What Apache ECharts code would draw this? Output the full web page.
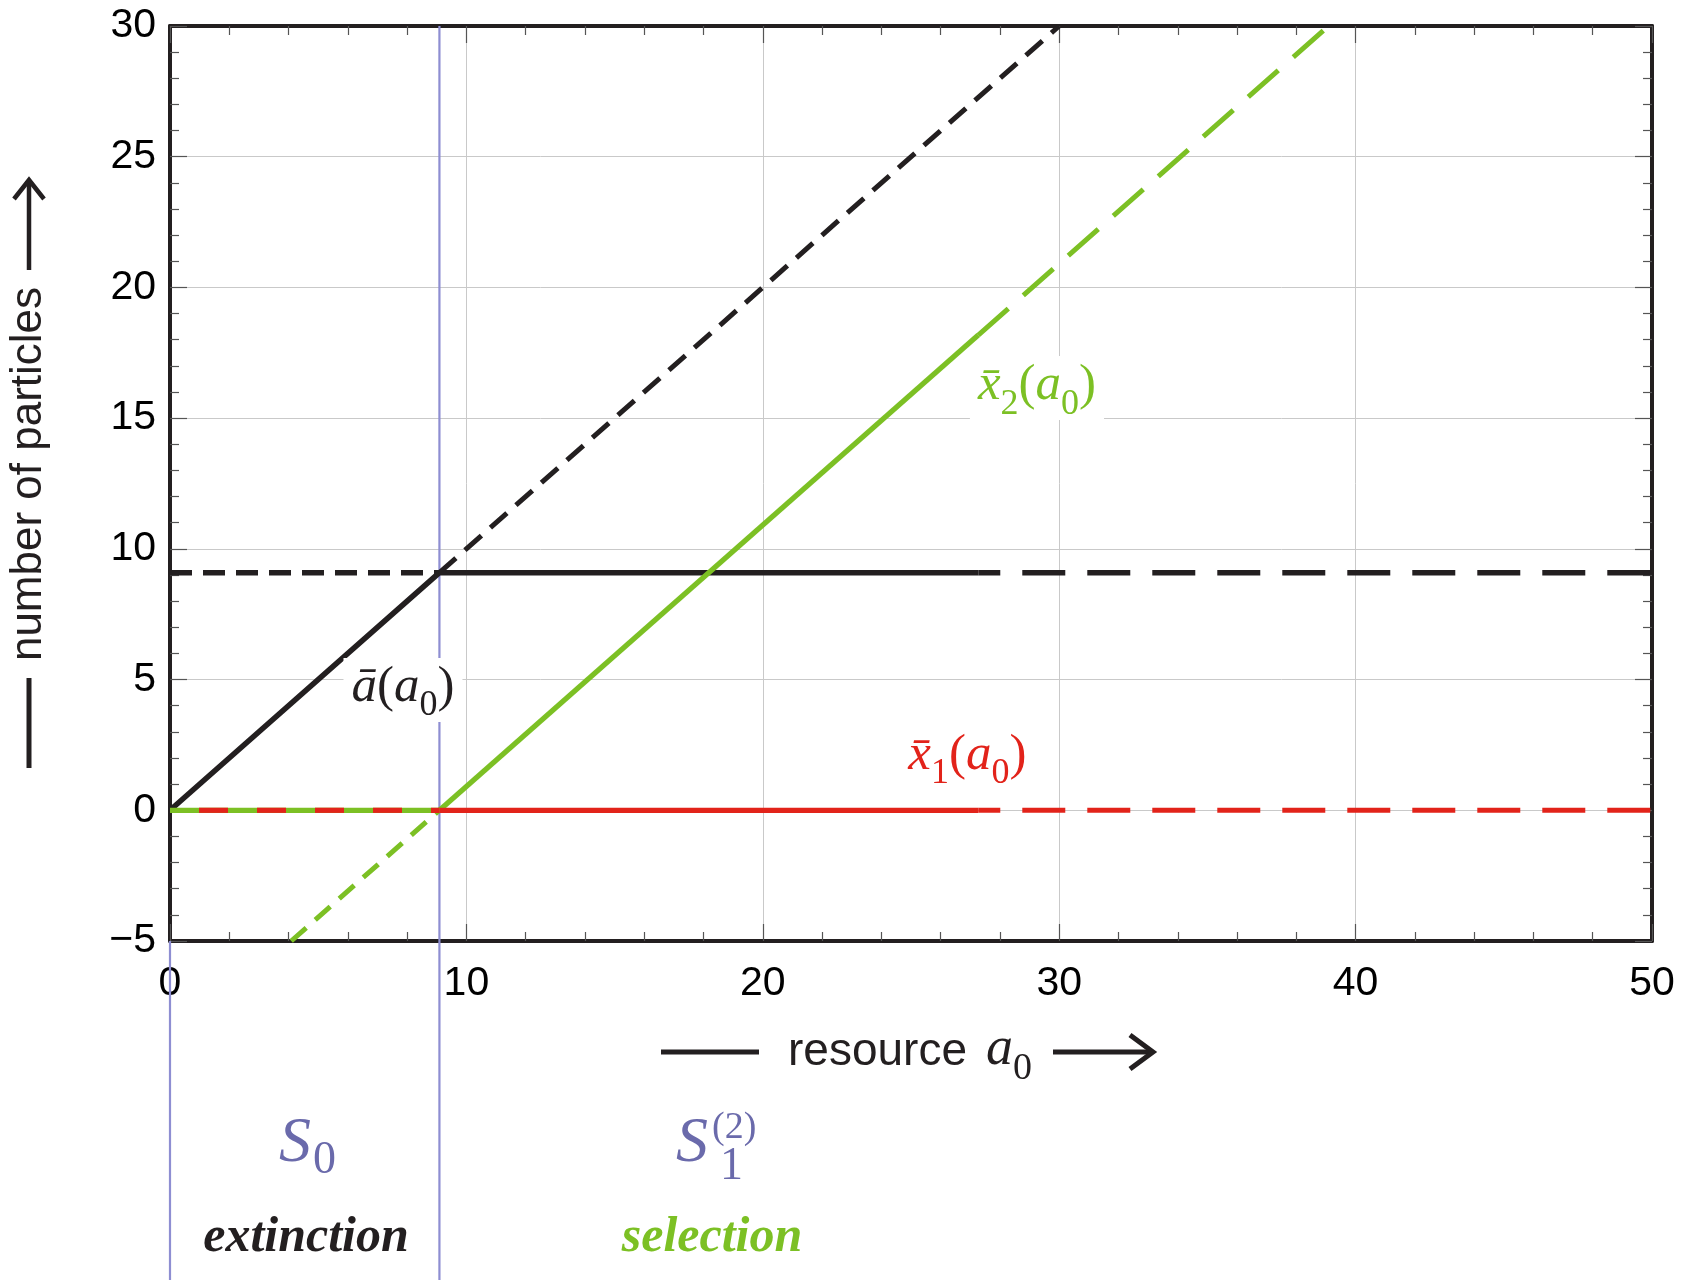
<!DOCTYPE html>
<html>
<head>
<meta charset="utf-8">
<script src="https://cdn.jsdelivr.net/npm/echarts@6/dist/echarts.min.js"></script>
<style>
html,body{margin:0;padding:0;background:#fff;}
#c{width:1685px;height:1280px;}
</style>
</head>
<body>
<div id="c"></div>
<script>
// ---------- data ----------
const xTicks = [0, 10, 20, 30, 40, 50];
const yTicks = [-5, 0, 5, 10, 15, 20, 25, 30];
const regionBounds = [[0, -5], [9.09, 30]];           // purple boundaries: [x, top y]
const aBarSolid = [[0, 0], [9.09, 9.09], [27.27, 9.09]];
const aBarLevelDash = [[0, 9.09], [9.09, 9.09]];
const aBarDiagDash = [[9.09, 9.09], [30, 30]];
const aBarTailDash = [[27.27, 9.09], [50, 9.09]];
const x2Zero = [[0, 0], [9.09, 0]];
const x2Solid = [[9.09, 0], [27.27, 18.18]];
const x2UpDash = [[27.27, 18.18], [39.09, 30]];
const x2DownDash = [[4.09, -5], [9.09, 0]];
const x1ZeroDash = [[0, 0], [9.09, 0]];
const x1Solid = [[9.09, 0], [27.27, 0]];
const x1TailDash = [[27.27, 0], [50, 0]];
const labelA = [[7.86, 4.6]];
const labelX2 = [[29.25, 16.15]];
const labelX1 = [[26.9, 2.0]];

const BLACK = '#231f20', GREEN = '#7cc024', RED = '#e2231a', PURPLE = '#8e8ed2', PTEXT = '#6a6aab';
const SANS = '"Liberation Sans", Arial, sans-serif';
const SERIF = '"Liberation Serif", "Times New Roman", serif';

function mathRich(color) {
  return {
    it: {fontFamily: SERIF, fontStyle: 'italic', fontSize: 51, lineHeight: 56, verticalAlign: 'top', color: color, opacity: 1},
    up: {fontFamily: SERIF, fontSize: 51, lineHeight: 56, verticalAlign: 'top', color: color, opacity: 1},
    sub: {fontFamily: SERIF, fontSize: 36, lineHeight: 38, verticalAlign: 'top', padding: [26, 0, 0, 0], color: color, opacity: 1}
  };
}

function lineSeries(data, color, width, dash, offset, z) {
  return {
    type: 'line', data: data, showSymbol: false, symbol: 'none', silent: true, z: z || 3,
    lineStyle: {color: color, width: width, type: dash || 'solid', dashOffset: offset || 0, cap: 'butt'},
    emphasis: {disabled: true}, animation: false
  };
}

function labelSeries(data, text, color, bg) {
  return {
    type: 'scatter', data: data, symbolSize: 1, silent: true, z: 10,
    itemStyle: {color: 'rgba(0,0,0,0)', opacity: 1},
    label: {
      show: true, position: 'inside', formatter: text, rich: mathRich(color), color: color, opacity: 1,
      textBorderWidth: 0, textBorderColor: 'transparent', textShadowBlur: 0,
      backgroundColor: bg ? '#ffffff' : 'transparent', padding: [4, 8, 4, 8]
    },
    emphasis: {disabled: true}, animation: false
  };
}

const axisCommon = {
  axisLine: {show: true, onZero: false, lineStyle: {color: BLACK, width: 4}},
  axisTick: {show: true, inside: true, length: 17, lineStyle: {color: '#555', width: 1.2}},
  minorTick: {show: true, splitNumber: 5, length: 9, lineStyle: {color: '#555', width: 1.2}}
};

const chart = echarts.init(document.getElementById('c'), null, {renderer: 'canvas'});
chart.setOption({
  animation: false,
  backgroundColor: '#ffffff',
  grid: {left: 170, right: 33, top: 26, bottom: 339, containLabel: false},
  xAxis: [
    Object.assign({
      type: 'value', min: xTicks[0], max: xTicks[xTicks.length - 1], interval: 10, position: 'bottom',
      axisLabel: {fontSize: 41, fontFamily: SANS, color: '#000', margin: 22},
      splitLine: {show: true, lineStyle: {color: '#c9c9c9', width: 1}}
    }, axisCommon),
    Object.assign({
      type: 'value', min: xTicks[0], max: xTicks[xTicks.length - 1], interval: 10, position: 'top',
      axisLabel: {show: false}, splitLine: {show: false}
    }, axisCommon)
  ],
  yAxis: [
    Object.assign({
      type: 'value', min: yTicks[0], max: yTicks[yTicks.length - 1], interval: 5, position: 'left',
      axisLabel: {fontSize: 41, fontFamily: SANS, color: '#000', margin: 14,
        formatter: v => v < 0 ? '\u2212' + Math.abs(v) : String(v)},
      splitLine: {show: true, lineStyle: {color: '#c9c9c9', width: 1}}
    }, axisCommon),
    Object.assign({
      type: 'value', min: yTicks[0], max: yTicks[yTicks.length - 1], interval: 5, position: 'right',
      axisLabel: {show: false}, splitLine: {show: false}
    }, axisCommon)
  ],
  series: [
    {
      type: 'custom', data: regionBounds, clip: false, z: 2, silent: true,
      renderItem: function (params, api) {
        const p = api.coord([api.value(0), api.value(1)]);
        return {type: 'line', shape: {x1: p[0], y1: p[1], x2: p[0], y2: api.getHeight()},
          style: {stroke: PURPLE, lineWidth: 2.2}};
      }
    },
    lineSeries(aBarLevelDash, BLACK, 5.5, [22, 11], 0),
    lineSeries(aBarDiagDash, BLACK, 5, [22, 12], 0),
    lineSeries(aBarTailDash, BLACK, 5.5, [43, 22], 21),
    lineSeries(aBarSolid, BLACK, 5.5, 'solid', 0, 4),
    lineSeries(x2DownDash, GREEN, 5, [20, 12], 0),
    lineSeries(x2UpDash, GREEN, 5, [40, 20], 0),
    lineSeries(x2Solid, GREEN, 5.2, 'solid', 0, 4),
    lineSeries(x2Zero, GREEN, 5.2, 'solid', 0, 4),
    lineSeries(x1ZeroDash, RED, 5.2, [29, 29], 29, 5),
    lineSeries(x1Solid, RED, 5.2, 'solid', 0, 5),
    lineSeries(x1TailDash, RED, 5, [43, 22], 21, 5),
    labelSeries(labelA, '{it|\u0101}{up|(}{it|a}{sub|0}{up|)}', BLACK, true),
    labelSeries(labelX2, '{it|x\u0304}{sub|2}{up|(}{it|a}{sub|0}{up|)}', GREEN, true),
    labelSeries(labelX1, '{it|x\u0304}{sub|1}{up|(}{it|a}{sub|0}{up|)}', RED, false)
  ],
  graphic: [
    // y axis title
    {type: 'line', shape: {x1: 29, y1: 768, x2: 29, y2: 678}, style: {stroke: BLACK, lineWidth: 5}},
    {type: 'text', x: 29, y: 474, rotation: Math.PI / 2,
      style: {text: 'number of particles', font: '44px ' + SANS, fill: BLACK, align: 'center', verticalAlign: 'middle'}},
    {type: 'line', shape: {x1: 29, y1: 270, x2: 29, y2: 181}, style: {stroke: BLACK, lineWidth: 4.5}},
    {type: 'polyline', shape: {points: [[14, 199], [29, 180], [44, 199]]}, style: {stroke: BLACK, lineWidth: 4.5, fill: null}},
    // x axis title
    {type: 'line', shape: {x1: 661, y1: 1052, x2: 759, y2: 1052}, style: {stroke: BLACK, lineWidth: 5}},
    {type: 'text', x: 788, y: 1052, style: {text: 'resource', font: '46px ' + SANS, fill: BLACK, align: 'left', verticalAlign: 'middle'}},
    {type: 'text', x: 986, y: 1050, style: {text: 'a', font: 'italic 54px ' + SERIF, fill: BLACK, align: 'left', verticalAlign: 'middle'}},
    {type: 'text', x: 1013, y: 1069, style: {text: '0', font: '38px ' + SERIF, fill: BLACK, align: 'left', verticalAlign: 'middle'}},
    {type: 'line', shape: {x1: 1053, y1: 1052, x2: 1150, y2: 1052}, style: {stroke: BLACK, lineWidth: 5}},
    {type: 'polyline', shape: {points: [[1130, 1035], [1153, 1052], [1130, 1069]]}, style: {stroke: BLACK, lineWidth: 5, fill: null}},
    // regions
    {type: 'text', x: 279, y: 1144, style: {text: 'S', font: 'italic 64px ' + SERIF, fill: PTEXT, align: 'left', verticalAlign: 'middle'}},
    {type: 'text', x: 313, y: 1161, style: {text: '0', font: '46px ' + SERIF, fill: PTEXT, align: 'left', verticalAlign: 'middle'}},
    {type: 'text', x: 676, y: 1144, style: {text: 'S', font: 'italic 64px ' + SERIF, fill: PTEXT, align: 'left', verticalAlign: 'middle'}},
    {type: 'text', x: 712, y: 1128, style: {text: '(2)', font: '38px ' + SERIF, fill: PTEXT, align: 'left', verticalAlign: 'middle'}},
    {type: 'text', x: 720, y: 1167, style: {text: '1', font: '46px ' + SERIF, fill: PTEXT, align: 'left', verticalAlign: 'middle'}},
    {type: 'text', x: 306, y: 1238, style: {text: 'extinction', font: 'italic bold 50px ' + SERIF, fill: BLACK, align: 'center', verticalAlign: 'middle'}},
    {type: 'text', x: 712, y: 1238, style: {text: 'selection', font: 'italic bold 50px ' + SERIF, fill: GREEN, align: 'center', verticalAlign: 'middle'}}
  ]
});
</script>
</body>
</html>
